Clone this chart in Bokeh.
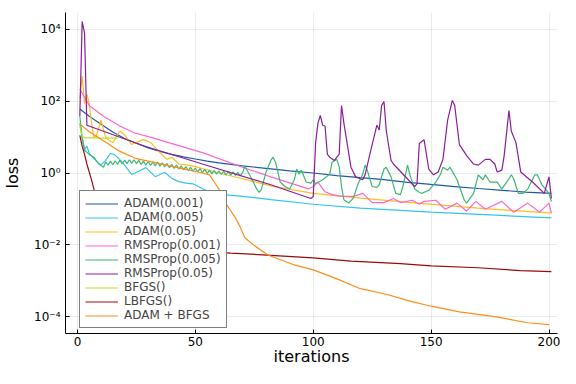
from bokeh.plotting import figure
from bokeh.models import (FixedTicker, CustomJSTickFormatter, Legend, LegendItem, Range1d)
from bokeh.embed import file_html
from bokeh.resources import INLINE

# ---------------- data ----------------
xticks = [0, 50, 100, 150, 200]
yticks = [1e-4, 1e-2, 1e0, 1e2, 1e4]

adam001_x = [1, 5, 10, 15, 20, 25, 30, 35, 40, 45, 50, 55, 60, 70, 80, 90, 100, 110, 120, 130, 140, 150, 160, 170, 180, 190, 201]
adam001_y = [60.3, 38, 22.9, 13.8, 9.1, 6.76, 5.0, 3.98, 3.31, 2.82, 2.45, 2.14, 1.91, 1.58, 1.35, 1.15, 1.0, 0.85, 0.74, 0.65, 0.55, 0.48, 0.42, 0.37, 0.33, 0.295, 0.27]

adam005_x = [1, 2, 3, 4, 5, 7, 10, 12, 14, 16, 19, 23, 26, 29, 33, 37, 40, 43, 46, 49, 53, 57, 62, 70, 82, 100, 120, 150, 175, 201]
adam005_y = [24.5, 9.5, 4.47, 5.6, 3.5, 2.5, 1.66, 2.24, 3.55, 3.16, 2.0, 0.91, 1.12, 1.41, 0.79, 1.05, 0.71, 0.575, 0.525, 0.5, 0.363, 0.28, 0.25, 0.224, 0.182, 0.135, 0.105, 0.081, 0.068, 0.056]

adam05_x = [1, 2, 3, 4, 5, 6, 7, 8, 10, 12, 15, 18, 20, 23, 26, 28, 31, 33, 36, 38, 40, 43, 47, 51, 60, 70, 82, 100, 120, 144, 170, 201]
adam05_y = [117, 500, 85, 158, 85, 24.5, 9.5, 10.7, 29.5, 9.5, 6.9, 14.8, 11.5, 6.2, 7.6, 8.5, 7.1, 5.1, 3.16, 2.4, 2.75, 1.78, 1.66, 1.45, 1.0, 0.69, 0.44, 0.27, 0.2, 0.145, 0.105, 0.076]

rms001_x = [1, 5, 11, 18, 24, 32, 39, 53, 70, 82, 98, 100, 102, 105, 108, 112, 117, 121, 125, 130, 134, 137, 142, 145, 147, 152, 156, 161, 165, 169, 173, 180, 185, 191, 196, 200, 201]
rms001_y = [219, 76, 38, 20.4, 13.2, 9.5, 6.9, 3.7, 1.45, 0.78, 0.36, 0.42, 0.56, 0.3, 0.25, 0.224, 0.224, 0.27, 0.15, 0.15, 0.195, 0.15, 0.174, 0.135, 0.162, 0.174, 0.098, 0.145, 0.087, 0.162, 0.098, 0.162, 0.081, 0.145, 0.081, 0.145, 0.076]

rms005_x = [1, 2, 3, 5, 7, 9, 11,
            12, 13, 14, 15, 16, 17, 18, 19, 20, 21, 22, 23, 24, 25, 26, 27, 28, 29, 30, 31,
            32, 33, 34, 35, 36, 37, 38, 39, 40, 41, 42, 43, 44, 45, 46, 47, 48, 49, 50, 51,
            52, 53, 54, 55, 56, 57, 58, 59, 60, 61, 62, 63, 64, 65, 66, 67, 68, 69, 70,
            71, 73, 76, 77, 78, 80, 82, 83, 84, 86, 88, 90, 92, 93, 94, 95, 97, 99, 100,
            101, 104, 107, 108, 110, 111, 112, 113, 115, 117, 119, 121, 122, 123, 124, 125,
            127, 128, 130, 131, 133, 135, 137, 138, 140, 141, 143, 145, 146, 149, 152, 154,
            155, 157, 158, 161, 164, 165, 168, 170, 172, 173, 175, 178, 180, 183, 184, 185,
            187, 189, 191, 194, 195, 197, 200, 201]
rms005_y = [38, 9.5, 4.3, 3.3, 2.75, 1.78, 1.45,
            2.04, 1.66, 2.14, 1.70, 2.19, 1.74, 2.24, 1.78, 2.29, 1.82, 2.34, 1.86, 2.34, 1.82, 2.24, 1.74, 2.14, 1.66, 2.09, 1.62,
            2.04, 1.58, 2.0, 1.55, 1.91, 1.48, 1.82, 1.41, 1.74, 1.35, 1.66, 1.29, 1.58, 1.23, 1.51, 1.17, 1.45, 1.12, 1.38, 1.07,
            1.32, 1.02, 1.26, 0.98, 1.20, 0.95, 1.17, 0.93, 1.15, 0.91, 1.12, 0.89, 1.10, 0.87, 1.07, 0.85, 1.05, 0.83, 1.02,
            1.55, 0.89, 0.36, 0.29, 0.35, 1.07, 2.24, 2.75, 2.0, 0.56, 0.42, 0.36, 0.65, 1.29, 0.93, 1.2, 0.56, 0.52, 0.65,
            0.5, 0.65, 0.93, 2.0, 2.4, 1.5, 0.42, 0.18, 0.145, 0.2, 0.5, 0.93, 1.66, 1.15, 0.69, 0.42,
            0.4, 0.47, 1.29, 1.45, 0.78, 0.27, 0.25, 0.42, 1.66, 0.89, 0.36, 0.29, 0.27, 0.33, 0.56, 0.93,
            1.45, 1.2, 1.45, 0.65, 0.18, 0.145, 0.27, 0.89, 0.65, 0.89, 0.56, 0.56, 0.36, 0.69, 0.89, 0.69,
            0.27, 0.27, 0.36, 0.89, 0.89, 0.47, 0.27, 0.16]

rms05_x = [1, 2, 3, 4, 28, 53, 82, 99, 100, 101, 102, 103, 104, 105, 106, 107, 109, 110, 111, 112, 113, 114,
           116, 118, 121, 122, 124, 126, 127, 128, 129, 130, 131, 133, 134, 143, 144, 145, 147, 149, 151, 153,
           155, 157, 159, 160, 162, 165, 168, 170, 173, 175, 177, 178, 180, 181, 183, 184, 186, 188, 193, 198, 200, 201]
rms05_y = [38, 16600, 7900, 21.4, 5.75, 1.78, 0.47, 0.195, 0.22, 6.9, 24.5, 40, 21.4, 20.4, 3.3, 2.75, 2.24, 2.75, 3.3, 76, 24.5, 9.5,
           1.45, 0.78, 0.65, 0.89, 3.3, 11.5, 21.4, 15.8, 76, 98, 14.8, 2.24, 1.78, 0.42, 0.5, 6.6, 8.5, 1.29, 0.89, 1.07,
           2.4, 29.5, 105, 76, 6.2, 3.1, 1.78, 1.66, 2.4, 2.4, 1.78, 1.07, 1.2, 3.1, 55, 14.8, 6.9, 1.07, 0.56, 0.27, 0.78, 0.195]

bfgs_x = [1, 2, 3, 5, 8, 11, 14, 17]
bfgs_y = [20.4, 10.5, 9.6, 9.5, 9.5, 9.4, 9.4, 9.4]

lbfgs_x = [1, 2, 3, 4, 6, 7, 8, 9, 10, 11, 15, 20, 30, 40, 50, 65, 82, 100, 116, 137, 150, 170, 188, 201]
lbfgs_y = [11.2, 5.6, 3.3, 1.78, 0.63, 0.355, 0.25, 0.178, 0.126, 0.1, 0.063, 0.028, 0.0126, 0.0083, 0.0068, 0.0059, 0.0051, 0.0043, 0.0035, 0.003, 0.0026, 0.0023, 0.0019, 0.0018]

adambfgs_x = [1, 5, 11, 18, 25, 32, 39, 46, 53, 56, 58, 61, 63, 65, 67, 69, 71, 75, 81, 92, 100, 109, 120, 131, 141, 150, 162, 177, 191, 200]
adambfgs_y = [23, 14.1, 7.9, 4.0, 2.5, 2.0, 1.58, 1.26, 1.0, 0.89, 0.56, 0.28, 0.141, 0.089, 0.056, 0.0316, 0.0158, 0.0095, 0.0051, 0.00275, 0.002, 0.0012, 0.0006, 0.00042, 0.00027, 0.000195, 0.000135, 0.0001, 0.0000676, 0.00006]

series = [
    ("ADAM(0.001)", adam001_x, adam001_y, "#1f5aa6"),
    ("ADAM(0.005)", adam005_x, adam005_y, "#33c4f2"),
    ("ADAM(0.05)", adam05_x, adam05_y, "#ffbe1e"),
    ("RMSProp(0.001)", rms001_x, rms001_y, "#ff66cc"),
    ("RMSProp(0.005)", rms005_x, rms005_y, "#3cb872"),
    ("RMSProp(0.05)", rms05_x, rms05_y, "#8b1c9c"),
    ("BFGS()", bfgs_x, bfgs_y, "#b4e61e"),
    ("LBFGS()", lbfgs_x, lbfgs_y, "#990a0a"),
    ("ADAM + BFGS", adambfgs_x, adambfgs_y, "#ff8c1a"),
]

FONT = "DejaVu Sans"

p = figure(width=560, height=368,
           x_range=Range1d(-5.07, 203.6), y_range=Range1d(10 ** -4.47, 10 ** 4.47),
           y_axis_type="log", output_backend="svg", toolbar_location=None,
           min_border_left=63, min_border_right=3, min_border_top=12, min_border_bottom=20)
p.outline_line_color = None
p.background_fill_color = "white"

items = []
for name, xs, ys, col in series:
    r = p.line(xs, ys, line_color=col, line_width=1.2)
    items.append(LegendItem(label=name, renderers=[r]))

p.xaxis.ticker = FixedTicker(ticks=xticks)
p.yaxis.ticker = FixedTicker(ticks=yticks)
p.yaxis.formatter = CustomJSTickFormatter(code="""
const e = Math.round(Math.log10(tick));
const sup = {"-":"\u207b","0":"\u2070","1":"\u00b9","2":"\u00b2","3":"\u00b3","4":"\u2074","5":"\u2075","6":"\u2076","7":"\u2077","8":"\u2078","9":"\u2079"};
return "10" + String(e).split("").map(c => sup[c]).join("");
""")

for ax in (p.xaxis, p.yaxis):
    ax.axis_line_color = "black"
    ax.axis_line_width = 1
    ax.major_tick_in = 4
    ax.major_tick_out = 0
    ax.major_tick_line_color = "black"
    ax.minor_tick_line_color = None
    ax.major_label_text_font = FONT
    ax.major_label_text_font_size = "12px"
    ax.major_label_text_color = "black"
    ax.axis_label_text_font = FONT
    ax.axis_label_text_font_size = "16px"
    ax.axis_label_text_font_style = "normal"
    ax.axis_label_text_color = "black"

p.xaxis.axis_label = "iterations"
p.yaxis.axis_label = "loss"
p.xaxis.major_label_standoff = 3
p.yaxis.major_label_standoff = 5
p.xaxis.axis_label_standoff = -2
p.yaxis.axis_label_standoff = 9

for g in (p.xgrid, p.ygrid):
    g.grid_line_color = "black"
    g.grid_line_alpha = 0.08
    g.grid_line_width = 1
p.ygrid.minor_grid_line_color = None

legend = Legend(items=items, location=(14, 5))
legend.label_text_font = FONT
legend.label_text_font_size = "12px"
legend.label_text_line_height = 1.08
legend.glyph_width = 33
legend.glyph_height = 13
legend.label_height = 13
legend.label_standoff = 6
legend.spacing = 0
legend.padding = 5
legend.margin = 0
legend.border_line_color = "black"
legend.border_line_width = 1
legend.background_fill_alpha = 1.0
p.add_layout(legend, "center")

open("out.html", "w").write(file_html(p, INLINE))
